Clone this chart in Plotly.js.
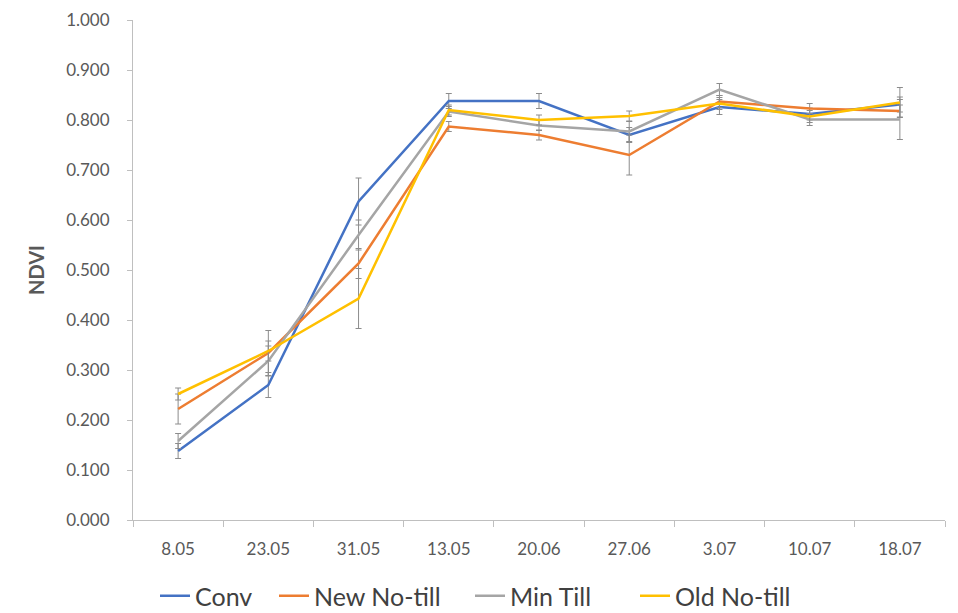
<!DOCTYPE html>
<html>
<head>
<meta charset="utf-8">
<script src="https://cdn.plot.ly/plotly-3.0.1.min.js"></script>
<style>html,body{margin:0;padding:0;background:#fff;}#chart{width:958px;height:613px;}</style>
</head>
<body>
<div id="chart"></div>
<script>
const dates = ["8.05","23.05","31.05","13.05","20.06","27.06","3.07","10.07","18.07"];
const conv      = [0.138, 0.270, 0.637, 0.838, 0.838, 0.770, 0.826, 0.812, 0.831];
const convErr   = [0.015, 0.025, 0.047, 0.015, 0.015, 0.015, 0.015, 0.012, 0.015];
const newNT     = [0.222, 0.334, 0.513, 0.787, 0.770, 0.730, 0.837, 0.823, 0.818];
const newNTErr  = [0.030, 0.045, 0.030, 0.010, 0.010, 0.040, 0.012, 0.010, 0.012];
const minTill   = [0.158, 0.318, 0.570, 0.817, 0.789, 0.777, 0.861, 0.801, 0.801];
const minTillErr= [0.015, 0.030, 0.030, 0.010, 0.010, 0.020, 0.012, 0.012, 0.040];
const oldNT     = [0.252, 0.338, 0.443, 0.820, 0.800, 0.808, 0.833, 0.807, 0.835];
const oldNTErr  = [0.012, 0.020, 0.060, 0.010, 0.010, 0.010, 0.012, 0.012, 0.030];

const names = ["Conv","New No-till","Min Till","Old No-till"];
const colors = ["#4472C4","#ED7D31","#A5A5A5","#FFC000"];
const ys = [conv, newNT, minTill, oldNT];
const errs = [convErr, newNTErr, minTillErr, oldNTErr];
const legendIds = ["legend","legend2","legend3","legend4"];

const traces = ys.map((y,i)=>({
  type:"scatter", mode:"lines", x:dates, y:y, name:names[i],
  legend:legendIds[i],
  line:{color:colors[i], width:2.5},
  error_y:{type:"data", array:errs[i], visible:true, color:"#8c8c8c", thickness:1, width:3}
}));

// legend box left edges, in pixels from the page's left side
const legendPx = [155, 274, 470, 635];
const plotL = 133, plotW = 958 - 133 - 13;

const layout = {
  width:958, height:613,
  margin:{l:133, r:13, t:20, b:93, autoexpand:false},
  paper_bgcolor:"#fff", plot_bgcolor:"#fff",
  font:{family:"Lato, 'Open Sans', sans-serif", color:"#595959", size:17},
  showlegend:true,
  xaxis:{type:"category", showgrid:false, zeroline:false, showline:true, linecolor:"#bfbfbf",
         linewidth:1, ticks:"outside", tickson:"boundaries", ticklen:6, tickcolor:"#bfbfbf",
         ticklabelstandoff:14,
         tickfont:{size:17, color:"#595959"}, range:[-0.5,8.5]},
  yaxis:{range:[0,1], dtick:0.1, tickformat:".3f", showgrid:false, zeroline:false,
         showline:true, linecolor:"#bfbfbf", linewidth:1, ticks:"outside", ticklen:5,
         ticklabelstandoff:14,
         tickcolor:"#bfbfbf", tickfont:{size:17, color:"#595959"},
         title:{text:"<b>NDVI</b>", font:{size:20, color:"#595959"}, standoff:16}}
};
legendIds.forEach((id,i)=>{
  layout[id] = {orientation:"h", x:(legendPx[i]-plotL)/plotW, xanchor:"left",
                y:-0.152, yanchor:"middle", font:{size:25, color:"#404040"},
                itemwidth:30, bgcolor:"rgba(0,0,0,0)"};
});
Plotly.newPlot("chart", traces, layout, {displayModeBar:false});
</script>
</body>
</html>
